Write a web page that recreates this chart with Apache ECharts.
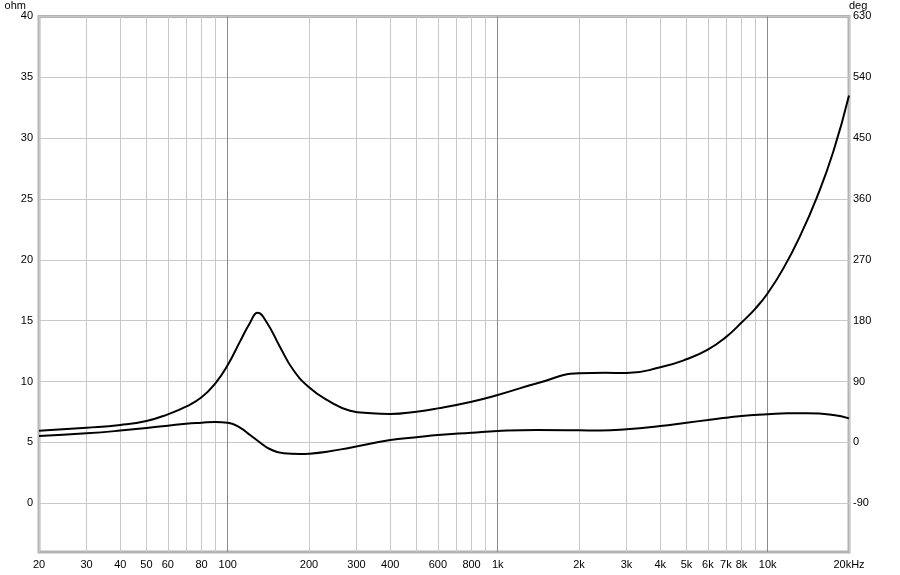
<!DOCTYPE html>
<html>
<head>
<meta charset="utf-8">
<script src="https://cdn.jsdelivr.net/npm/echarts@6/dist/echarts.min.js"></script>
<style>
  html, body { margin: 0; padding: 0; background: #fff; }
  #chart { width: 900px; height: 575px; }
</style>
</head>
<body>
<div id="chart"></div>
<script>
// impedance curve (ohm), left axis
const impFreq = [20, 30, 40, 50, 60, 70, 80, 90, 100, 111, 121, 129, 139, 156, 175, 200, 233, 284, 340, 400, 500, 600, 800, 1000, 1400, 2000, 2500, 3000, 4000, 5000, 6000, 7000, 8000, 9000, 10000, 11430, 13170, 15180, 17500, 20000];
const impOhm = [5.97, 6.21, 6.43, 6.76, 7.31, 7.94, 8.71, 9.86, 11.36, 13.28, 14.84, 15.66, 14.92, 12.87, 10.95, 9.53, 8.49, 7.61, 7.4, 7.34, 7.53, 7.8, 8.35, 8.9, 9.86, 10.68, 10.72, 10.7, 11.17, 11.83, 12.62, 13.65, 14.85, 16.0, 17.26, 19.3, 21.95, 25.1, 28.9, 33.5];

// phase curve (deg), right axis
const phaseFreq = [20, 30, 40, 50, 60, 70, 80, 90, 100, 111, 121, 132, 143, 161, 185, 200, 233, 284, 400, 500, 600, 800, 1000, 1400, 2000, 2400, 3000, 4000, 5000, 6000, 7000, 8000, 10000, 11800, 14000, 17500, 20000];
const phaseDeg = [9.5, 13.5, 17.5, 21.5, 24.8, 27.7, 29.2, 30.2, 29.2, 21.8, 11, -0.4, -9.7, -16, -17.1, -16.6, -13.7, -7.7, 3.6, 7.6, 11, 14.4, 16.9, 18.4, 18, 17.5, 19.4, 24.3, 29.2, 33.1, 36.5, 39.1, 41.6, 43.2, 43.2, 40.7, 35.6];

// axis ticks
const gridFreqs = [20, 30, 40, 50, 60, 70, 80, 90, 100, 200, 300, 400, 500, 600, 700, 800, 900, 1000, 2000, 3000, 4000, 5000, 6000, 7000, 8000, 9000, 10000, 20000];
const labelFreqs = [20, 30, 40, 50, 60, 80, 100, 200, 300, 400, 600, 800, 1000, 2000, 3000, 4000, 5000, 6000, 7000, 8000, 10000, 20000];
const decadeFreqs = [100, 1000, 10000];
const ohmTicks = [0, 5, 10, 15, 20, 25, 30, 35, 40];
const degTicks = [-90, 0, 90, 180, 270, 360, 450, 540, 630];

const lg = Math.log10;
const fMin = lg(20), fMax = lg(20000);

function freqLabel(v) {
  const f = Math.round(Math.pow(10, v));
  if (f >= 20000) return '20kHz';
  if (f >= 1000) return (f / 1000) + 'k';
  return String(f);
}

const chart = echarts.init(document.getElementById('chart'));
const font = 'Liberation Sans, Arial, sans-serif';

const option = {
  animation: false,
  backgroundColor: '#fff',
  grid: {
    left: 39,
    right: 51,
    top: 16,
    bottom: 23,
    show: true,
    borderColor: '#b4b4b4',
    borderWidth: 3
  },
  xAxis: [
    {
      type: 'value',
      min: fMin,
      max: fMax,
      axisLine: { show: false },
      axisTick: { show: false, customValues: gridFreqs.map(lg) },
      splitLine: { show: true, lineStyle: { color: '#c8c8c8', width: 1 } },
      axisLabel: {
        customValues: labelFreqs.map(lg),
        formatter: freqLabel,
        color: '#000',
        fontSize: 11,
        fontFamily: font,
        margin: 7
      }
    },
    {
      // darker decade lines
      type: 'value',
      min: fMin,
      max: fMax,
      position: 'top',
      axisLine: { show: false },
      axisTick: { show: false, customValues: decadeFreqs.map(lg) },
      axisLabel: { show: false },
      splitLine: { show: true, lineStyle: { color: '#8a8a8a', width: 1 } }
    }
  ],
  yAxis: [
    {
      type: 'value',
      min: -4,
      max: 40,
      name: 'ohm',
      nameLocation: 'end',
      nameGap: 5,
      nameTextStyle: { color: '#000', fontSize: 11, fontFamily: font, align: 'right', padding: [0, 13, 0, 0] },
      axisLine: { show: false },
      axisTick: { show: false, customValues: ohmTicks },
      splitLine: { show: true, lineStyle: { color: '#c8c8c8', width: 1 } },
      axisLabel: {
        customValues: ohmTicks,
        color: '#000',
        fontSize: 11,
        fontFamily: font,
        margin: 6
      }
    },
    {
      type: 'value',
      min: -162,
      max: 630,
      position: 'right',
      name: 'deg',
      nameLocation: 'end',
      nameGap: 5,
      nameTextStyle: { color: '#000', fontSize: 11, fontFamily: font, align: 'left', padding: [0, 0, 0, 0] },
      axisLine: { show: false },
      axisTick: { show: false, customValues: degTicks },
      splitLine: { show: false },
      axisLabel: {
        customValues: degTicks,
        color: '#000',
        fontSize: 11,
        fontFamily: font,
        margin: 4
      }
    }
  ],
  series: [
    {
      name: 'Impedance',
      type: 'line',
      xAxisIndex: 0,
      yAxisIndex: 0,
      smooth: 0.5,
      showSymbol: false,
      lineStyle: { color: '#000', width: 2 },
      data: impFreq.map((f, i) => [lg(f), impOhm[i]])
    },
    {
      name: 'Phase',
      type: 'line',
      xAxisIndex: 0,
      yAxisIndex: 1,
      smooth: 0.5,
      showSymbol: false,
      lineStyle: { color: '#000', width: 2 },
      data: phaseFreq.map((f, i) => [lg(f), phaseDeg[i]])
    }
  ]
};

chart.setOption(option);
</script>
</body>
</html>
